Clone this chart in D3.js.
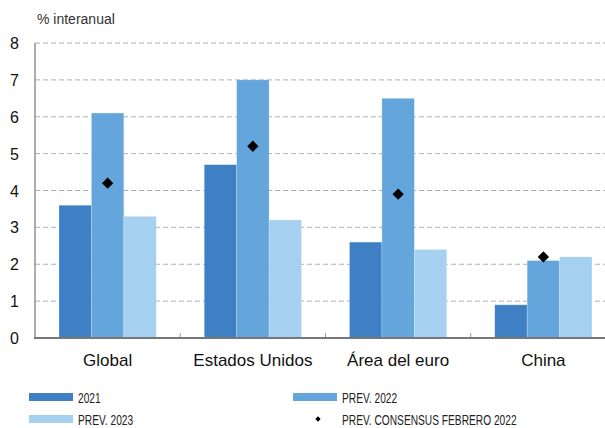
<!DOCTYPE html>
<meta charset="utf-8">
<style>
    body { margin: 0; background: #fff; }
    svg { font-family: "Liberation Sans", Arial, sans-serif; }
    .grid line { stroke: #b0b0b0; stroke-dasharray: 5,3; }
    .legend text { font-size: 15px; fill: #222; }
</style>
<body>
<script src="https://cdn.jsdelivr.net/npm/d3@7"></script>
<script>
    const categories = ["Global", "Estados Unidos", "Área del euro", "China"];
    const series = ["2021", "PREV. 2022", "PREV. 2023"];
    const v2021 = [3.6, 4.7, 2.6, 0.9];
    const v2022 = [6.1, 7.0, 6.5, 2.1];
    const v2023 = [3.3, 3.2, 2.4, 2.2];
    const consensus = [4.2, 5.2, 3.9, 2.2];
    const yTicks = [0, 1, 2, 3, 4, 5, 6, 7, 8];

    const colors = ["#3f7fc4", "#64a6dc", "#a5d0f0"];
    const values = [v2021, v2022, v2023];

    const W = 605, H = 428;
    const plotLeft = 35, plotTop = 43, plotBottom = 338;
    const plotRight = 616;

    const svg = d3.select("body").append("svg")
        .attr("width", W).attr("height", H);

    const x = d3.scaleBand().domain(categories).range([plotLeft, plotRight]);
    const xs = d3.scaleBand().domain(series).range([24, x.bandwidth() - 24]);
    const y = d3.scaleLinear().domain([0, 8]).range([plotBottom, plotTop]);

    // gridlines
    svg.append("g").attr("class", "grid")
        .selectAll("line")
        .data(yTicks.filter(d => d > 0))
        .enter().append("line")
        .attr("x1", plotLeft).attr("x2", W)
        .attr("y1", d => y(d)).attr("y2", d => y(d));

    // y labels
    svg.append("g")
        .selectAll("text")
        .data(yTicks)
        .enter().append("text")
        .attr("x", 19)
        .attr("y", d => y(d) + 6)
        .attr("text-anchor", "end")
        .style("font-size", "16px")
        .style("fill", "#111")
        .text(d => d);

    svg.append("text")
        .attr("x", 37).attr("y", 24)
        .style("font-size", "14px")
        .style("fill", "#333")
        .text("% interanual");

    // bars
    series.forEach((s, si) => {
        svg.append("g")
            .selectAll("rect")
            .data(categories)
            .enter().append("rect")
            .attr("x", d => x(d) + xs(s))
            .attr("width", xs.bandwidth())
            .attr("y", (d, i) => y(values[si][i]))
            .attr("height", (d, i) => plotBottom - y(values[si][i]))
            .style("fill", colors[si])
            .style("stroke", "rgba(255,255,255,0.35)")
            .style("stroke-width", 0.6);
    });

    // diamonds
    svg.append("g")
        .selectAll("path")
        .data(categories)
        .enter().append("path")
        .attr("d", d3.symbol().type(d3.symbolSquare).size(64))
        .attr("transform", (d, i) => `translate(${x(d) + xs("PREV. 2022") + xs.bandwidth() / 2},${y(consensus[i])}) rotate(45)`)
        .style("fill", "#000");

    // axes
    svg.append("line")
        .attr("x1", plotLeft).attr("x2", plotLeft)
        .attr("y1", plotTop).attr("y2", plotBottom)
        .style("stroke", "#777").style("stroke-width", 1.2);

    svg.append("g")
        .selectAll("line")
        .data(categories.slice(1))
        .enter().append("line")
        .attr("x1", d => x(d)).attr("x2", d => x(d))
        .attr("y1", plotBottom - 5).attr("y2", plotBottom)
        .style("stroke", "#999").style("stroke-width", 1);

    svg.append("line")
        .attr("x1", plotLeft - 1).attr("x2", W)
        .attr("y1", plotBottom).attr("y2", plotBottom)
        .style("stroke", "#777").style("stroke-width", 2);

    svg.append("g")
        .selectAll("text")
        .data(categories)
        .enter().append("text")
        .attr("x", d => x(d) + x.bandwidth() / 2)
        .attr("y", 366)
        .attr("text-anchor", "middle")
        .style("font-size", "17px")
        .style("fill", "#111")
        .text(d => d);

    // legend
    const legendItems = [
        {label: "2021", type: "rect", color: colors[0], x: 29, y: 397},
        {label: "PREV. 2022", type: "rect", color: colors[1], x: 293, y: 397},
        {label: "PREV. 2023", type: "rect", color: colors[2], x: 29, y: 419},
        {label: "PREV. CONSENSUS FEBRERO 2022", type: "diamond", color: "#000", x: 293, y: 419}
    ];
    const legend = svg.append("g").attr("class", "legend")
        .selectAll("g")
        .data(legendItems)
        .enter().append("g")
        .attr("transform", d => `translate(${d.x},${d.y})`);

    legend.filter(d => d.type === "rect").append("rect")
        .attr("x", 0).attr("y", -4)
        .attr("width", 44).attr("height", 8)
        .style("fill", d => d.color);

    legend.filter(d => d.type === "diamond").append("path")
        .attr("d", d3.symbol().type(d3.symbolSquare).size(14))
        .attr("transform", "translate(25,0) rotate(45)")
        .style("fill", "#000");

    // condensed look: squeeze text horizontally
    legend.append("text")
        .attr("transform", "translate(49,5.5) scale(0.68,1)")
        .text(d => d.label);
</script>
</body>
